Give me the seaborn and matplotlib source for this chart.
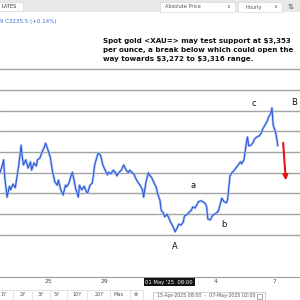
import matplotlib
matplotlib.use('Agg')
import matplotlib.pyplot as plt
import matplotlib.patches as mpatches
import pandas as pd
import seaborn as sns

# hourly gold price, trading hours counted from 23-Apr 00:00 (weekend removed)
hours = [7, 9, 10, 11, 13, 15, 16, 18, 20, 21, 23, 25, 26, 27, 29, 31, 33, 34, 36, 38,
         39, 41, 43, 45, 46, 48, 50, 51, 52, 54, 56, 57, 59, 61, 63, 64, 66, 68, 69, 70,
         72, 74, 75, 77, 79, 81, 82, 84, 86, 87, 88, 90, 91, 93, 94, 95, 97, 99, 100, 102,
         104, 106, 107, 109, 111, 112, 113, 115, 117, 118, 120, 122, 123, 125, 127, 129, 130, 132, 134, 135,
         137, 139, 141, 142, 144, 145, 147, 148, 150, 152, 153, 155, 157, 159, 160, 162, 164, 165, 167, 169,
         171, 172, 174, 176, 177, 179, 181, 183, 184, 185, 187, 189, 190, 192, 194, 195, 197, 199, 201, 202,
         203, 204, 206, 207, 209, 211, 213, 214, 216, 218, 219, 220, 222, 224, 225, 227, 229, 231, 232, 234,
         236, 237, 239, 240, 241, 243, 244, 245]
prices = [3321, 3335, 3345, 3310, 3273, 3294, 3287, 3298, 3291, 3306, 3335, 3373, 3350, 3335, 3345, 3329, 3341, 3325, 3339, 3333,
          3345, 3348, 3360, 3370, 3377, 3364, 3350, 3335, 3321, 3302, 3296, 3306, 3287, 3277, 3296, 3293, 3300, 3316, 3321, 3310,
          3287, 3273, 3296, 3287, 3294, 3283, 3281, 3296, 3300, 3316, 3335, 3350, 3358, 3354, 3345, 3335, 3325, 3316, 3321, 3318,
          3325, 3320, 3314, 3321, 3325, 3331, 3335, 3325, 3320, 3325, 3321, 3316, 3310, 3302, 3296, 3287, 3273, 3302, 3320, 3316,
          3310, 3300, 3291, 3279, 3267, 3248, 3242, 3235, 3240, 3231, 3225, 3217, 3206, 3215, 3221, 3219, 3225, 3237, 3239, 3244,
          3248, 3254, 3252, 3260, 3264, 3266, 3264, 3260, 3254, 3231, 3229, 3237, 3239, 3242, 3246, 3254, 3271, 3264, 3262, 3269,
          3291, 3314, 3321, 3323, 3329, 3335, 3341, 3337, 3345, 3377, 3389, 3372, 3373, 3379, 3385, 3389, 3391, 3397, 3404, 3412,
          3420, 3427, 3435, 3445, 3412, 3399, 3387, 3372]

grid_levels = [3200, 3240, 3280, 3320, 3360, 3400, 3440, 3480, 3520]
tick_hours = [48, 96, 192, 242]
tick_labels = ['25', '29', '4', '7']
wave_labels = ['c', 'B', 'a', 'b', 'A']
wave_hours = [224.6, 258.9, 172.3, 198.9, 156.9]
wave_prices = [3454, 3456, 3296, 3221, 3177]
note_lines = [r'Spot gold <XAU=> may test support at \$3,353',
              r'per ounce, a break below which could open the',
              r'way towards \$3,272 to \$3,316 range.']
range_buttons = ['1Y', '2Y', '3Y', '5Y', '10Y', '20Y', 'Max', '⊗']

sns.set_style('white')
plt.rcParams['font.family'] = ['DejaVu Sans']

fig = plt.figure(figsize=(3, 3), dpi=100)
ax = fig.add_axes([0, 23 / 300, 1, 264 / 300])

for lvl in grid_levels:
    ax.axhline(lvl, color='#a3a3a3', lw=1.0, zorder=0)

df = pd.DataFrame({'hour': hours, 'price': prices})
sns.lineplot(data=df, x='hour', y='price', color='#b3c6f4', lw=1.8, ax=ax, zorder=2)
sns.lineplot(data=df, x='hour', y='price', color='#2d5ad6', lw=0.8, ax=ax, zorder=3)

ax.set_xlim(6.9, 264)
ax.set_ylim(3119, 3628)
ax.set_xticks(tick_hours, tick_labels)
ax.set_yticks([])
ax.tick_params(axis='x', length=0, pad=1.5, labelsize=4.3, labelcolor='#444444')
ax.set_xlabel('')
ax.set_ylabel('')
for s in ['top', 'left', 'right']:
    ax.spines[s].set_visible(False)
ax.spines['bottom'].set_color('#999999')
ax.spines['bottom'].set_linewidth(0.8)

# Elliott wave labels
for lbl, h, p in zip(wave_labels, wave_hours, wave_prices):
    ax.text(h, p, lbl, fontsize=6, ha='center', va='center', color='#111111')

# red arrow
ax.annotate('', xy=(252, 3300), xytext=(249.4, 3383),
            arrowprops=dict(arrowstyle='-|>', color='#e8140f', lw=1.5, mutation_scale=7))

# crosshair date label
ax.text(152, -0.019, "01 May '25  08:00", transform=ax.get_xaxis_transform(),
        ha='center', va='center', fontsize=3.8, color='white',
        bbox=dict(boxstyle='square,pad=0.35', fc='#111111', ec='none'))

# headline text
for i, line in enumerate(note_lines):
    fig.text(103 / 300, 1 - (41 + 9 * i) / 300, line, fontsize=5.15, fontweight='bold',
             ha='left', va='center', color='#111111')

fig.text(0, 1 - 22 / 300, '9 C3235.5 (+0.14%)', fontsize=4, color='#3a6fd8', va='center')


def px_rect(x0, y0, x1, y1, **kw):
    fig.add_artist(mpatches.Rectangle((x0 / 300, 1 - y1 / 300), (x1 - x0) / 300, (y1 - y0) / 300,
                                      transform=fig.transFigure, **kw))


# toolbar
px_rect(0, 0, 300, 12, fc='#e8e8e8', ec='none')
px_rect(-1, 2, 23, 11, fc='white', ec='#d0d0d0', lw=0.4)
px_rect(160, 2, 235, 12, fc='white', ec='#d0d0d0', lw=0.4)
px_rect(238, 2, 282, 12, fc='white', ec='#d0d0d0', lw=0.4)
fig.text(1 / 300, 1 - 6.5 / 300, 'LATES', fontsize=3.6, color='#333333', va='center')
fig.text(165 / 300, 1 - 7 / 300, 'Absolute Price', fontsize=3.6, color='#555555', va='center')
fig.text(228 / 300, 1 - 7 / 300, '∨', fontsize=3.6, color='#555555', va='center', ha='center')
fig.text(245 / 300, 1 - 7 / 300, 'Hourly', fontsize=3.6, color='#555555', va='center')
fig.text(275 / 300, 1 - 7 / 300, '∨', fontsize=3.6, color='#555555', va='center', ha='center')
fig.text(291 / 300, 1 - 7 / 300, '⇅', fontsize=5, color='#555555', va='center', ha='center')

# bottom range buttons
btn_x = [4, 23, 41, 57, 77, 99, 119, 136]
for lbl, bx in zip(range_buttons, btn_x):
    fig.text(bx / 300, 1 - 295 / 300, lbl, fontsize=3.6, color='#555555', ha='center', va='center')
for sx in [13, 32, 50, 67, 87, 110, 130, 143]:
    fig.add_artist(plt.Line2D([sx / 300, sx / 300], [0, 1 - 290 / 300], transform=fig.transFigure,
                              color='#d8d8d8', lw=0.5))
fig.add_artist(plt.Line2D([0, 143 / 300], [1 - 290 / 300] * 2, transform=fig.transFigure,
                          color='#d8d8d8', lw=0.5))
px_rect(153, 292, 265, 301, fc='white', ec='#bbbbbb', lw=0.5)
fig.text(157 / 300, 1 - 296 / 300, '15-Apr-2025 08:00  -  07-May-2025 02:00', fontsize=3.4,
         color='#555555', va='center')
px_rect(257, 294, 262, 298.5, fc='none', ec='#666666', lw=0.4)

fig.savefig('out.png', dpi=100)
